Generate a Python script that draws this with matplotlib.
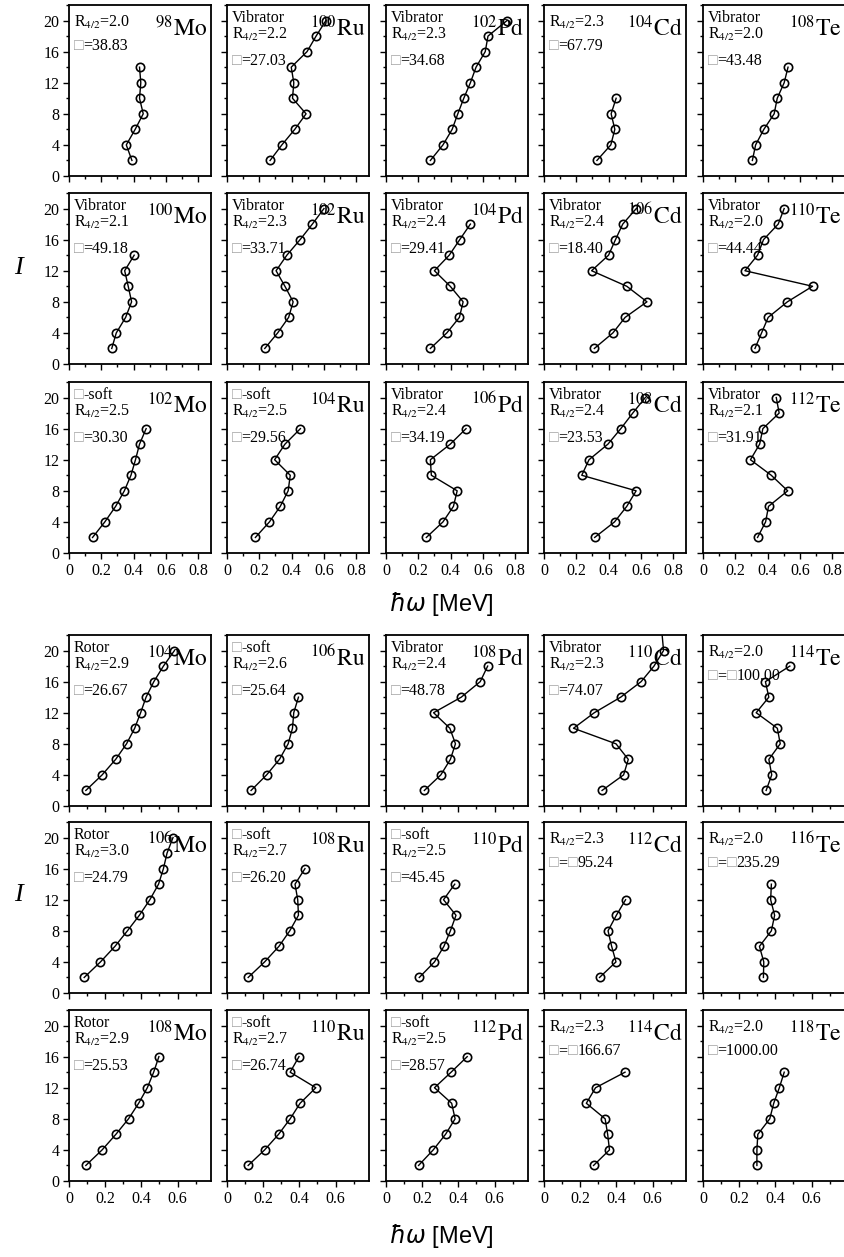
import matplotlib
matplotlib.use("Agg")
import matplotlib.pyplot as plt
from matplotlib.ticker import MultipleLocator

plt.rcParams['font.family'] = ['Liberation Serif', 'DejaVu Sans']
plt.rcParams['mathtext.fontset'] = 'stix'

# spin values
I_10 = [2, 4, 6, 8, 10]
I_12 = [2, 4, 6, 8, 10, 12]
I_14 = [2, 4, 6, 8, 10, 12, 14]
I_16 = [2, 4, 6, 8, 10, 12, 14, 16]
I_18 = [2, 4, 6, 8, 10, 12, 14, 16, 18]
I_20 = [2, 4, 6, 8, 10, 12, 14, 16, 18, 20]
I_24 = [2, 4, 6, 8, 10, 12, 14, 16, 18, 20, 24]

# hbar*omega [MeV]
hw_98Mo = [0.39, 0.355, 0.41, 0.46, 0.437, 0.445, 0.437]
hw_100Ru = [0.267, 0.34, 0.42, 0.49, 0.406, 0.414, 0.398, 0.496, 0.552, 0.613]
hw_102Pd = [0.275, 0.353, 0.41, 0.445, 0.482, 0.523, 0.558, 0.615, 0.632, 0.75]
hw_104Cd = [0.328, 0.414, 0.439, 0.416, 0.447]
hw_108Te = [0.306, 0.326, 0.377, 0.441, 0.46, 0.503, 0.527]

hw_100Mo = [0.265, 0.293, 0.351, 0.388, 0.367, 0.345, 0.404]
hw_102Ru = [0.234, 0.314, 0.382, 0.41, 0.359, 0.304, 0.371, 0.453, 0.529, 0.601]
hw_104Pd = [0.275, 0.377, 0.455, 0.478, 0.398, 0.30, 0.392, 0.457, 0.523]
hw_106Cd = [0.312, 0.427, 0.503, 0.638, 0.513, 0.295, 0.40, 0.443, 0.488, 0.572]
hw_110Te = [0.322, 0.363, 0.404, 0.523, 0.679, 0.26, 0.338, 0.375, 0.466, 0.503]

hw_102Mo = [0.146, 0.222, 0.289, 0.343, 0.384, 0.412, 0.437, 0.478]
hw_104Ru = [0.176, 0.263, 0.33, 0.379, 0.392, 0.295, 0.359, 0.455]
hw_106Pd = [0.25, 0.353, 0.418, 0.441, 0.281, 0.275, 0.398, 0.496]
hw_108Cd = [0.314, 0.437, 0.513, 0.571, 0.234, 0.279, 0.396, 0.476, 0.55, 0.628]
hw_112Te = [0.338, 0.388, 0.406, 0.525, 0.423, 0.294, 0.351, 0.371, 0.472, 0.454]

hw_104Mo = [0.093, 0.183, 0.258, 0.318, 0.363, 0.396, 0.426, 0.469, 0.522, 0.583]
hw_106Ru = [0.133, 0.219, 0.29, 0.338, 0.362, 0.369, 0.395]
hw_108Pd = [0.212, 0.303, 0.356, 0.384, 0.353, 0.263, 0.416, 0.521, 0.562]
hw_110Cd = [0.321, 0.44, 0.466, 0.398, 0.163, 0.278, 0.424, 0.537, 0.608, 0.661, 0.645]
hw_114Te = [0.349, 0.38, 0.364, 0.427, 0.411, 0.294, 0.364, 0.345, 0.48]

hw_106Mo = [0.084, 0.174, 0.254, 0.323, 0.389, 0.447, 0.495, 0.522, 0.542, 0.575]
hw_108Ru = [0.117, 0.208, 0.287, 0.347, 0.395, 0.391, 0.376, 0.431]
hw_110Pd = [0.184, 0.268, 0.32, 0.356, 0.387, 0.318, 0.38]
hw_112Cd = [0.307, 0.398, 0.374, 0.354, 0.40, 0.451]
hw_116Te = [0.334, 0.336, 0.312, 0.378, 0.396, 0.374, 0.378]

hw_108Mo = [0.093, 0.183, 0.259, 0.329, 0.385, 0.433, 0.468, 0.497]
hw_110Ru = [0.117, 0.208, 0.285, 0.349, 0.404, 0.491, 0.349, 0.398]
hw_112Pd = [0.18, 0.261, 0.329, 0.382, 0.363, 0.268, 0.36, 0.449]
hw_114Cd = [0.274, 0.362, 0.352, 0.338, 0.234, 0.285, 0.448]
hw_118Te = [0.298, 0.298, 0.303, 0.369, 0.391, 0.422, 0.449]

# (mass, element, spins, hw, type, R4/2, chi)
panels = [
    [('98', 'Mo', I_14, hw_98Mo, None, '2.0', '38.83'),
     ('100', 'Ru', I_20, hw_100Ru, 'Vibrator', '2.2', '27.03'),
     ('102', 'Pd', I_20, hw_102Pd, 'Vibrator', '2.3', '34.68'),
     ('104', 'Cd', I_10, hw_104Cd, None, '2.3', '67.79'),
     ('108', 'Te', I_14, hw_108Te, 'Vibrator', '2.0', '43.48')],
    [('100', 'Mo', I_14, hw_100Mo, 'Vibrator', '2.1', '49.18'),
     ('102', 'Ru', I_20, hw_102Ru, 'Vibrator', '2.3', '33.71'),
     ('104', 'Pd', I_18, hw_104Pd, 'Vibrator', '2.4', '29.41'),
     ('106', 'Cd', I_20, hw_106Cd, 'Vibrator', '2.4', '18.40'),
     ('110', 'Te', I_20, hw_110Te, 'Vibrator', '2.0', '44.44')],
    [('102', 'Mo', I_16, hw_102Mo, '□-soft', '2.5', '30.30'),
     ('104', 'Ru', I_16, hw_104Ru, '□-soft', '2.5', '29.56'),
     ('106', 'Pd', I_16, hw_106Pd, 'Vibrator', '2.4', '34.19'),
     ('108', 'Cd', I_20, hw_108Cd, 'Vibrator', '2.4', '23.53'),
     ('112', 'Te', I_20, hw_112Te, 'Vibrator', '2.1', '31.91')],
    [('104', 'Mo', I_20, hw_104Mo, 'Rotor', '2.9', '26.67'),
     ('106', 'Ru', I_14, hw_106Ru, '□-soft', '2.6', '25.64'),
     ('108', 'Pd', I_18, hw_108Pd, 'Vibrator', '2.4', '48.78'),
     ('110', 'Cd', I_24, hw_110Cd, 'Vibrator', '2.3', '74.07'),
     ('114', 'Te', I_18, hw_114Te, None, '2.0', '□100.00')],
    [('106', 'Mo', I_20, hw_106Mo, 'Rotor', '3.0', '24.79'),
     ('108', 'Ru', I_16, hw_108Ru, '□-soft', '2.7', '26.20'),
     ('110', 'Pd', I_14, hw_110Pd, '□-soft', '2.5', '45.45'),
     ('112', 'Cd', I_12, hw_112Cd, None, '2.3', '□95.24'),
     ('116', 'Te', I_14, hw_116Te, None, '2.0', '□235.29')],
    [('108', 'Mo', I_16, hw_108Mo, 'Rotor', '2.9', '25.53'),
     ('110', 'Ru', I_16, hw_110Ru, '□-soft', '2.7', '26.74'),
     ('112', 'Pd', I_16, hw_112Pd, '□-soft', '2.5', '28.57'),
     ('114', 'Cd', I_14, hw_114Cd, None, '2.3', '□166.67'),
     ('118', 'Te', I_14, hw_118Te, None, '2.0', '1000.00')],
]

W, H = 845, 1257
lefts = [69, 227, 386, 544, 703]
tops = [5, 193, 382, 635, 822, 1010]
pw, ph = 142, 171
BOX_GRAY = '#a0a0a0'
FS = 11.5


def mixed_text(ax, x, y, s):
    # draw string piece by piece so the missing-glyph boxes come out gray
    pieces = []
    buf = ''
    for ch in s:
        if ch == '□':
            if buf:
                pieces.append(buf)
                buf = ''
            pieces.append(ch)
        else:
            buf += ch
    if buf:
        pieces.append(buf)
    prev = None
    for p in pieces:
        col = BOX_GRAY if p == '□' else 'black'
        if prev is None:
            prev = ax.text(x, y, p, transform=ax.transAxes, fontsize=FS,
                           color=col, ha='left', va='bottom')
        else:
            prev = ax.annotate(p, xy=(1, 0), xycoords=prev, fontsize=FS,
                               color=col, ha='left', va='bottom')


fig = plt.figure(figsize=(W / 100, H / 100), dpi=100)

for r, row in enumerate(panels):
    bottom_group = r >= 3
    for c, (mass, elem, spins, hw, kind, r42, chi) in enumerate(row):
        ax = fig.add_axes([lefts[c] / W, 1 - (tops[r] + ph) / H, pw / W, ph / H])
        ax.plot(hw, spins, color='black', lw=1.0, marker='o', ms=6,
                mfc='none', mec='black', mew=1.2)
        ax.set_ylim(0, 22)
        if bottom_group:
            ax.set_xlim(0, 0.785)
            ax.set_xticks([0, 0.2, 0.4, 0.6])
            ax.set_xticklabels(['0', '0.2', '0.4', '0.6'])
        else:
            ax.set_xlim(0, 0.88)
            ax.set_xticks([0, 0.2, 0.4, 0.6, 0.8])
            ax.set_xticklabels(['0', '0.2', '0.4', '0.6', '0.8'])
        ax.xaxis.set_minor_locator(MultipleLocator(0.1))
        ax.set_yticks([0, 4, 8, 12, 16, 20])
        ax.yaxis.set_minor_locator(MultipleLocator(2))
        ax.tick_params(which='both', direction='out', width=1.0,
                       labelsize=11.5, top=False, right=False, pad=3)
        ax.tick_params(which='major', length=4)
        ax.tick_params(which='minor', length=2.5)
        if r not in (2, 5):
            ax.tick_params(labelbottom=False)
        if c != 0:
            ax.tick_params(labelleft=False)
        for sp in ax.spines.values():
            sp.set_linewidth(1.3)

        ax.text(0.975, 0.94, r'$^{%s}\mathrm{%s}$' % (mass, elem),
                transform=ax.transAxes, ha='right', va='top', fontsize=17)

        if kind is None:
            ys = [0.87, 0.745]
            lines = ['R4', '=' + chi]
        else:
            ys = [0.905, 0.80, 0.655]
            lines = [kind, 'R4', '=' + chi]
        for y, s in zip(ys, lines):
            if s == 'R4':
                ax.text(0.035, y, r'R$_{4/2}$=' + r42, transform=ax.transAxes,
                        fontsize=FS, ha='left', va='baseline')
            elif s.startswith('='):
                mixed_text(ax, 0.035, y - 0.03, '□' + s)
            else:
                mixed_text(ax, 0.035, y - 0.03, s)

for yc in (268, 895):
    fig.text(18 / W, 1 - yc / H, 'I', fontstyle='italic', fontsize=19,
             ha='center', va='center', family='Liberation Serif')
for yc in (604, 1236):
    fig.text(441 / W, 1 - yc / H, r'$\hbar\omega$ [MeV]', fontsize=17,
             ha='center', va='center', family='Liberation Sans',
             math_fontfamily='dejavusans')

fig.savefig('out.png', dpi=100)
